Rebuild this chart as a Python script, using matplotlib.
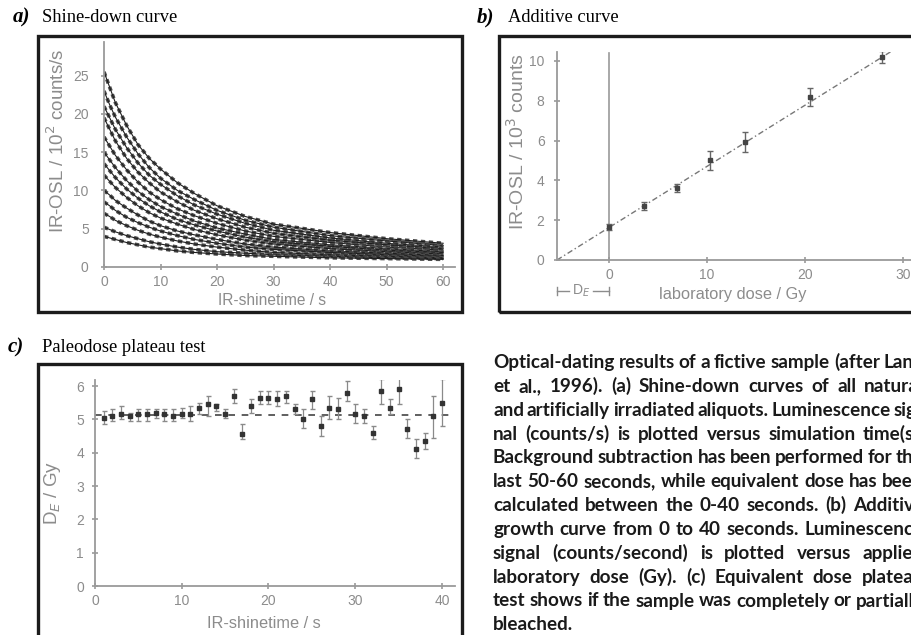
import matplotlib
matplotlib.use('Agg')
import matplotlib.pyplot as plt
from matplotlib.patches import Rectangle

W, H = 912, 635

# ---------------- data ----------------
shine_t = [0, 1, 2, 4, 6, 8, 10, 13, 16, 20, 25, 30, 40, 50, 60]
shine_c1 = [25.5, 23.5, 21.5, 18.5, 16.0, 14.2, 12.8, 11.0, 9.6, 8.0, 6.6, 5.6, 4.5, 3.7, 3.1]
shine_c2 = [23.0, 21.2, 19.6, 17.0, 14.8, 13.0, 11.6, 10.0, 8.8, 7.4, 6.1, 5.2, 4.1, 3.4, 2.8]
shine_c3 = [21.0, 19.5, 18.0, 15.6, 13.6, 12.0, 10.8, 9.3, 8.1, 6.9, 5.7, 4.8, 3.8, 3.1, 2.6]
shine_c4 = [19.5, 18.0, 16.5, 14.2, 12.4, 11.0, 9.8, 8.5, 7.4, 6.3, 5.2, 4.4, 3.5, 2.9, 2.4]
shine_c5 = [17.0, 15.8, 14.6, 12.7, 11.1, 9.8, 8.8, 7.6, 6.7, 5.7, 4.7, 4.0, 3.2, 2.6, 2.2]
shine_c6 = [15.0, 14.0, 13.0, 11.3, 9.9, 8.8, 7.9, 6.9, 6.0, 5.1, 4.3, 3.6, 2.9, 2.4, 2.0]
shine_c7 = [13.5, 12.6, 11.7, 10.2, 9.0, 8.0, 7.2, 6.2, 5.5, 4.7, 3.9, 3.3, 2.7, 2.2, 1.9]
shine_c8 = [12.0, 11.2, 10.4, 9.1, 8.0, 7.1, 6.4, 5.6, 4.9, 4.2, 3.5, 3.0, 2.4, 2.0, 1.7]
shine_c9 = [10.0, 9.4, 8.7, 7.7, 6.8, 6.0, 5.4, 4.7, 4.2, 3.6, 3.0, 2.6, 2.1, 1.8, 1.5]
shine_c10 = [8.5, 8.0, 7.4, 6.5, 5.8, 5.2, 4.7, 4.1, 3.6, 3.1, 2.6, 2.3, 1.9, 1.6, 1.4]
shine_c11 = [7.0, 6.6, 6.1, 5.4, 4.8, 4.3, 3.9, 3.4, 3.0, 2.6, 2.2, 1.9, 1.6, 1.4, 1.2]
shine_c12 = [5.2, 4.9, 4.6, 4.1, 3.7, 3.3, 3.0, 2.6, 2.3, 2.0, 1.8, 1.6, 1.4, 1.2, 1.1]
shine_c13 = [4.0, 3.8, 3.6, 3.2, 2.9, 2.6, 2.4, 2.1, 1.9, 1.7, 1.5, 1.4, 1.2, 1.1, 1.0]
shine_curves = [shine_c1, shine_c2, shine_c3, shine_c4, shine_c5, shine_c6, shine_c7,
                shine_c8, shine_c9, shine_c10, shine_c11, shine_c12, shine_c13]

dose_x = [0.0, 3.6, 6.9, 10.3, 13.9, 20.5, 27.8]
dose_y = [1.65, 2.7, 3.6, 5.0, 5.95, 8.2, 10.2]
dose_err = [0.15, 0.2, 0.2, 0.5, 0.5, 0.45, 0.3]
fit_x = [-5.3, 29.0]
fit_y = [0.0, 10.55]

plateau_t = list(range(1, 41))
plateau_de = [5.05, 5.1, 5.15, 5.1, 5.15, 5.15, 5.2, 5.15, 5.1, 5.15,
              5.15, 5.35, 5.45, 5.4, 5.15, 5.7, 4.55, 5.4, 5.65, 5.65,
              5.6, 5.7, 5.3, 5.0, 5.6, 4.8, 5.35, 5.3, 5.8, 5.15,
              5.1, 4.6, 5.85, 5.35, 5.9, 4.7, 4.1, 4.35, 5.1, 5.5]
plateau_lo = [4.85, 4.95, 5.0, 4.95, 4.95, 4.95, 5.05, 4.95, 4.95, 5.05,
              4.95, 5.15, 5.1, 5.25, 5.05, 5.5, 4.4, 5.2, 5.45, 5.45,
              5.4, 5.5, 5.15, 4.75, 5.3, 4.5, 5.0, 5.0, 5.55, 4.9,
              4.9, 4.4, 5.45, 5.15, 5.45, 4.45, 3.85, 4.1, 4.45, 4.8]
plateau_hi = [5.25, 5.3, 5.4, 5.2, 5.3, 5.3, 5.3, 5.3, 5.3, 5.35,
              5.4, 5.5, 5.7, 5.45, 5.3, 5.9, 4.85, 5.6, 5.85, 5.85,
              5.85, 5.85, 5.45, 5.3, 5.85, 5.1, 5.7, 5.65, 6.15, 5.45,
              5.3, 4.8, 6.2, 5.6, 6.4, 5.0, 4.4, 4.6, 5.7, 6.2]
plateau_mean = 5.12

a_xticks = [0, 10, 20, 30, 40, 50, 60]
a_yticks = [0, 5, 10, 15, 20, 25]
b_xticks = [0, 10, 20, 30]
b_yticks = [0, 2, 4, 6, 8, 10]
c_xticks = [0, 10, 20, 30, 40]
c_yticks = [0, 1, 2, 3, 4, 5, 6]

caption_lines = [
    "Optical-dating results of a fictive sample (after Lang",
    "et al., 1996). (a) Shine-down curves of all natural",
    "and artificially irradiated aliquots. Luminescence sig-",
    "nal (counts/s) is plotted versus simulation time(s).",
    "Background subtraction has been performed for the",
    "last 50-60 seconds, while equivalent dose has been",
    "calculated between the 0-40 seconds. (b) Additive",
    "growth curve from 0 to 40 seconds. Luminescence",
    "signal (counts/second) is plotted versus applied",
    "laboratory dose (Gy). (c) Equivalent dose plateau",
    "test shows if the sample was completely or partially",
    "bleached.",
]

# ---------------- figure ----------------
fig = plt.figure(figsize=(W / 100, H / 100), dpi=100)
GRAY = '#8c8c8c'
AXC = '#9a9a9a'
SANS = ['Liberation Sans', 'DejaVu Sans']


def add_ax(left, top, right, bottom):
    return fig.add_axes([left / W, 1 - bottom / H, (right - left) / W, (bottom - top) / H])


def style_ax(ax):
    for s in ['top', 'right']:
        ax.spines[s].set_visible(False)
    for s in ['left', 'bottom']:
        ax.spines[s].set_color(AXC)
        ax.spines[s].set_linewidth(1.3)
    ax.tick_params(colors=AXC, labelcolor=GRAY, labelsize=10, length=4,
                   direction='inout', width=1.2)
    for lab in ax.get_xticklabels() + ax.get_yticklabels():
        lab.set_family(SANS)
    ax.set_facecolor('none')


def frame(x0, y0, x1, y1):
    fig.patches.append(Rectangle((x0 / W, 1 - y1 / H), (x1 - x0) / W, (y1 - y0) / H,
                                 transform=fig.transFigure, fill=False,
                                 lw=2.4, ec='#1c1c1c'))


def title(xl, xt, yb, letter, text):
    fig.text(xl / W, 1 - yb / H, letter, family='Liberation Serif', style='italic',
             weight='bold', fontsize=15, va='baseline')
    fig.text(xt / W, 1 - yb / H, text, family='Liberation Serif', fontsize=13.3,
             va='baseline')


frame(38, 36, 462, 312)
frame(499, 36, 940, 312)
frame(38, 364, 462, 660)

title(13, 42, 22.5, 'a)', 'Shine-down curve')
title(477, 508, 22.5, 'b)', 'Additive curve')
title(8, 42, 352, 'c)', 'Paleodose plateau test')

# ---- panel a ----
axa = add_ax(104, 42, 455, 267)
for c in shine_curves:
    axa.plot(shine_t, c, color='#4a4a4a', lw=2.6, dashes=(1.2, 1.0), solid_capstyle='butt')
    axa.plot(shine_t, c, color='#1e1e1e', lw=0.8)
axa.set_xlim(0, 62.1)
axa.set_ylim(0, 29.4)
axa.set_xticks(a_xticks)
axa.set_yticks(a_yticks)
style_ax(axa)
axa.tick_params(axis='y', pad=9)
axa.tick_params(axis='x', pad=4)
axa.set_xlabel('IR-shinetime / s', color=GRAY, fontsize=11.2, family=SANS)
axa.set_ylabel('IR-OSL / 10$^2$ counts/s', color=GRAY, fontsize=13.5, family=SANS)
axa.xaxis.set_label_coords(0.48, -0.147)
axa.xaxis.label.set_va('center')
axa.yaxis.set_label_coords(-0.134, 0.56)
axa.yaxis.label.set_va('center')

# ---- panel b ----
axb = add_ax(557, 52, 918, 260)
axb.plot(fit_x, fit_y, color='#777777', lw=1.0, dashes=(4, 2, 1, 2))
axb.plot([0, 0], [0, 10.4], color='#999999', lw=1.2)
axb.errorbar(dose_x, dose_y, yerr=dose_err, fmt='s', ms=3, color='#444444',
             ecolor='#666666', elinewidth=1.0, capsize=2)
axb.set_xlim(-5.3, 31.5)
axb.set_ylim(0, 10.45)
axb.set_xticks(b_xticks)
axb.set_yticks(b_yticks)
style_ax(axb)
axb.tick_params(axis='y', pad=7)
axb.tick_params(axis='x', pad=4)
axb.set_xlabel('laboratory dose / Gy', color=GRAY, fontsize=11.8, family=SANS)
axb.set_ylabel('IR-OSL / 10$^3$ counts', color=GRAY, fontsize=14, family=SANS)
axb.xaxis.set_label_coords(0.4875, -0.168)
axb.xaxis.label.set_va('center')
axb.yaxis.set_label_coords(-0.111, 0.567)
axb.yaxis.label.set_va('center')
yde = -1.56
axb.plot([-5.3, -4.1], [yde, yde], color=GRAY, lw=1, clip_on=False)
axb.plot([-1.6, 0], [yde, yde], color=GRAY, lw=1, clip_on=False)
axb.plot([-5.3, -5.3], [yde - 0.2, yde + 0.2], color=GRAY, lw=1, clip_on=False)
axb.plot([0, 0], [yde - 0.2, yde + 0.2], color=GRAY, lw=1, clip_on=False)
axb.text(-2.85, yde, 'D$_E$', color=GRAY, fontsize=10, ha='center', va='center',
         family=SANS)

# ---- panel c ----
axc = add_ax(95, 380, 455, 586)
axc.axhline(plateau_mean, color='#444444', lw=1.2, dashes=(4, 4))
yerr = [[d - l for d, l in zip(plateau_de, plateau_lo)],
        [h - d for d, h in zip(plateau_de, plateau_hi)]]
axc.errorbar(plateau_t, plateau_de, yerr=yerr, fmt='s', ms=2.5, color='#333333',
             ecolor='#8a8a8a', elinewidth=0.9, capsize=1.8)
axc.set_xlim(0, 41.5)
axc.set_ylim(0, 6.18)
axc.set_xticks(c_xticks)
axc.set_yticks(c_yticks)
style_ax(axc)
axc.tick_params(axis='y', pad=6)
axc.tick_params(axis='x', pad=4)
axc.set_xlabel('IR-shinetime / s', color=GRAY, fontsize=11.8, family=SANS)
axc.set_ylabel('D$_E$ / Gy', color=GRAY, fontsize=13.5, family=SANS)
axc.xaxis.set_label_coords(0.47, -0.18)
axc.xaxis.label.set_va('center')
axc.yaxis.set_label_coords(-0.119, 0.45)
axc.yaxis.label.set_va('center')

# ---- caption (justified, runs past the right edge as in the reference) ----
renderer = fig.canvas.get_renderer()
cx0, cx1 = 493, 924
cy0, cdy = 368, 23.85
CAP = dict(family=['Lato', 'DejaVu Sans'], weight='bold', fontsize=13.6,
           color='#1a1a1a', va='baseline')
for i, line in enumerate(caption_lines):
    yb = 1 - (cy0 + i * cdy) / H
    if i == len(caption_lines) - 1:
        fig.text(cx0 / W, yb, line, **CAP)
        continue
    words = line.split(' ')
    texts = [fig.text(0, yb, w, **CAP) for w in words]
    widths = [t.get_window_extent(renderer).width for t in texts]
    gap = (cx1 - cx0 - sum(widths)) / (len(words) - 1)
    x = cx0
    for t, w in zip(texts, widths):
        t.set_x(x / W)
        x += w + gap

fig.savefig('out.png', dpi=100)
